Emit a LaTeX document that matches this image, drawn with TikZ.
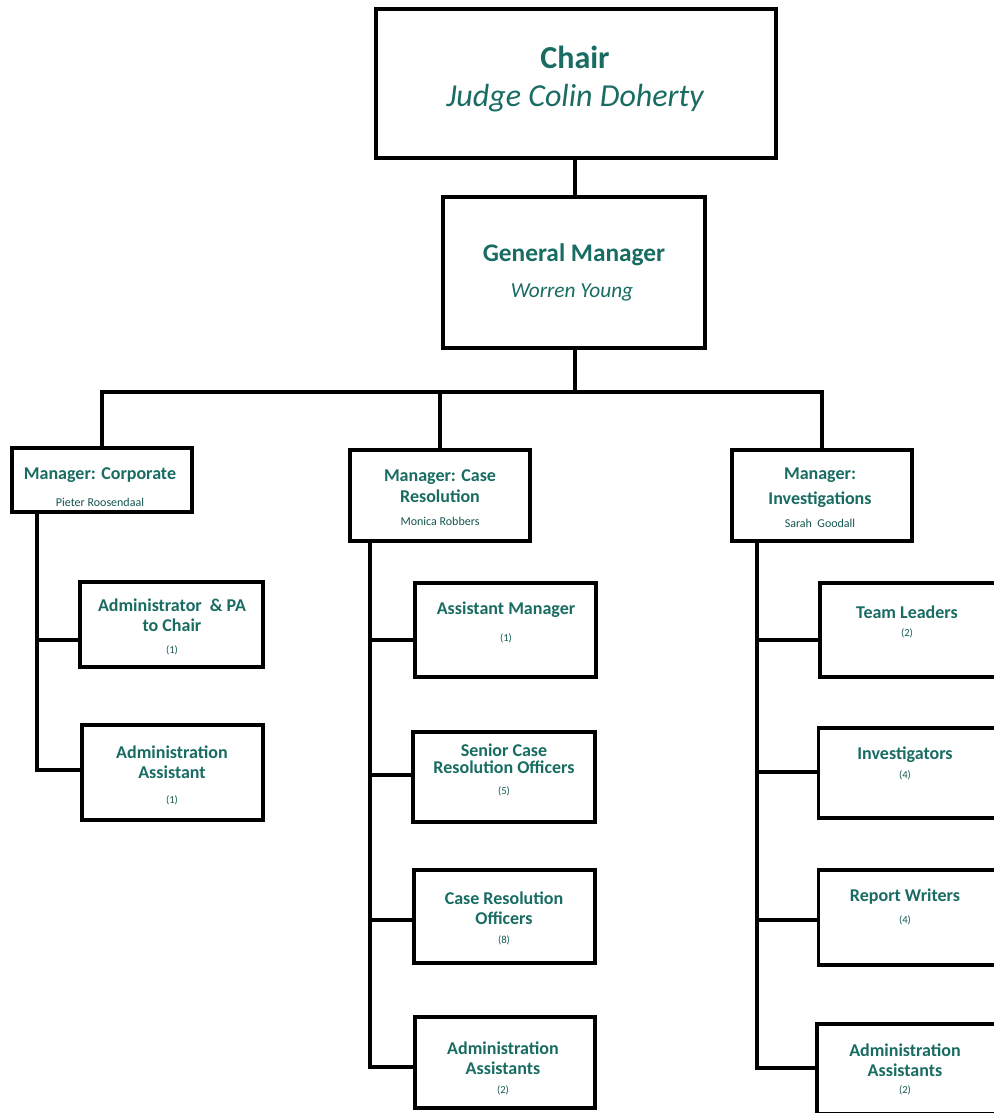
\documentclass[tikz,border=0pt]{standalone}
\usepackage{fontspec}
\setmainfont{Carlito}
\definecolor{teal1}{RGB}{24,108,98}
\tikzset{
  box/.style={draw=black, line width=2.6pt, inner sep=0pt, fill=white},
  conn/.style={draw=black, line width=2.6pt, line join=miter},
  ttl/.style={text=teal1, font=\bfseries\fontsize{13.5}{15}\selectfont, align=center, inner sep=0pt},
  nm/.style={text=teal1!80!black, font=\fontsize{9}{10}\selectfont, inner sep=0pt},
  cnt/.style={text=teal1!85!black, font=\fontsize{8}{9}\selectfont, inner sep=0pt},
}
\begin{document}
\begin{tikzpicture}[x=0.75pt,y=-0.75pt]
\useasboundingbox (0,0) rectangle (994,1113);
\clip (0,0) rectangle (994,1113);
% boxes
\node[box, minimum width=400*0.75pt, minimum height=149*0.75pt] (chair) at (576,83.5) {};
\node[box, minimum width=262*0.75pt, minimum height=151*0.75pt] (gm) at (574,272.5) {};
\node[box, minimum width=180*0.75pt, minimum height=64*0.75pt] (corp) at (102,480) {};
\node[box, minimum width=180*0.75pt, minimum height=91*0.75pt] (cr) at (440,495.5) {};
\node[box, minimum width=180*0.75pt, minimum height=91*0.75pt] (inv) at (822,495.5) {};
\node[box, minimum width=183*0.75pt, minimum height=85*0.75pt] (admpa) at (171.5,624.5) {};
\node[box, minimum width=181*0.75pt, minimum height=95*0.75pt] (adma) at (172.5,772.5) {};
\node[box, minimum width=181*0.75pt, minimum height=94*0.75pt] (am) at (505.5,630) {};
\node[box, minimum width=182*0.75pt, minimum height=90*0.75pt] (scro) at (504,777) {};
\node[box, minimum width=181*0.75pt, minimum height=93*0.75pt] (cro) at (504.5,916.5) {};
\node[box, minimum width=180*0.75pt, minimum height=91*0.75pt] (aa2) at (505,1062.5) {};
\node[box, minimum width=178*0.75pt, minimum height=94*0.75pt] (tl) at (909,630) {};
\node[box, minimum width=179*0.75pt, minimum height=90*0.75pt] (invs) at (908,773) {};
\node[box, minimum width=179*0.75pt, minimum height=95*0.75pt] (rw) at (908,917.5) {};
\node[box, minimum width=180*0.75pt, minimum height=90*0.75pt] (aa3) at (907,1069) {};
% connectors
\coordinate (bus) at (575,392);
\coordinate (colL) at (37,512);
\coordinate (colM) at (370,541);
\coordinate (colR) at (757,541);
\draw[conn] (chair.south -| bus) -- (gm.north -| bus);
\draw[conn] (gm.south -| bus) -- (bus);
\draw[conn] (corp.north) |- (bus) -| (inv.north);
\draw[conn] (cr.north) -- (cr.north |- bus);
\draw[conn] (colL) |- (adma.west |- 0,770);
\draw[conn] (colL |- 0,640) -- (admpa.west |- 0,640);
\draw[conn] (colM) |- (aa2.west |- 0,1067);
\draw[conn] (colM |- 0,640) -- (am.west |- 0,640);
\draw[conn] (colM |- 0,775) -- (scro.west |- 0,775);
\draw[conn] (colM |- 0,920) -- (cro.west |- 0,920);
\draw[conn] (colR) |- (aa3.west |- 0,1068);
\draw[conn] (colR |- 0,640) -- (tl.west |- 0,640);
\draw[conn] (colR |- 0,772) -- (invs.west |- 0,772);
\draw[conn] (colR |- 0,920) -- (rw.west |- 0,920);
% texts
\node[ttl, font=\bfseries\fontsize{24}{28}\selectfont] (chairT) at (575,57) {Chair};
\node[ttl, font=\itshape\fontsize{24}{28}\selectfont] (chairN) at (575,98) {Judge Colin Doherty};
\node[ttl, font=\bfseries\fontsize{19}{22}\selectfont] (gmT) at (574,255) {General Manager};
\node[ttl, font=\itshape\fontsize{16}{19}\selectfont] (gmN) at (572,292) {Worren Young};
\node[ttl] (corpT) at (100,475) {Manager: Corporate};
\node[nm] (corpN) at (100,502) {Pieter Roosendaal};
\node[ttl, font=\bfseries\fontsize{13.5}{16}\selectfont] (crT) at (440,486) {Manager: Case\\Resolution};
\node[nm] (crN) at (440,521) {Monica Robbers};
\node[ttl, font=\bfseries\fontsize{13.5}{19}\selectfont] (invT) at (820,488) {Manager:\\Investigations};
\node[nm] (invN) at (820,523) {Sarah\ \ Goodall};
\node[ttl] (admpaT) at (172,615) {Administrator \ \&\ PA\\to Chair};
\node[cnt] (admpaC) at (172,650) {(1)};
\node[ttl] (admaT) at (172,762) {Administration\\Assistant};
\node[cnt] (admaC) at (172,800) {(1)};
\node[ttl] (amT) at (506,610) {Assistant Manager};
\node[cnt] (amC) at (506,638) {(1)};
\node[ttl, font=\bfseries\fontsize{13.5}{13}\selectfont] (scroT) at (504,759) {Senior Case\\Resolution Officers};
\node[cnt] (scroC) at (504,791) {(5)};
\node[ttl] (croT) at (504,908) {Case Resolution\\Officers};
\node[cnt] (croC) at (504,940) {(8)};
\node[ttl] (aa2T) at (503,1058) {Administration\\Assistants};
\node[cnt] (aa2C) at (503,1090) {(2)};
\node[ttl] (tlT) at (907,612) {Team Leaders};
\node[cnt] (tlC) at (907,633) {(2)};
\node[ttl] (invsT) at (905,755) {Investigators};
\node[cnt] (invsC) at (905,775) {(4)};
\node[ttl] (rwT) at (905,897) {Report Writers};
\node[cnt] (rwC) at (905,920) {(4)};
\node[ttl] (aa3T) at (905,1060) {Administration\\Assistants};
\node[cnt] (aa3C) at (905,1090) {(2)};
\end{tikzpicture}
\end{document}
